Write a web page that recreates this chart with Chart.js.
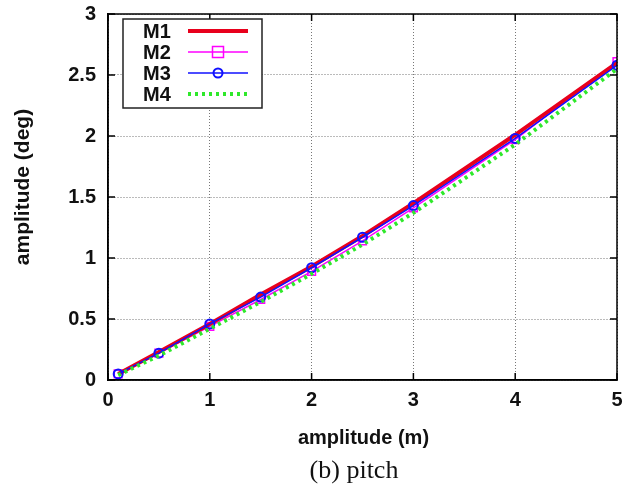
<!DOCTYPE html>
<html>
<head>
<meta charset="utf-8">
<script src="https://cdn.jsdelivr.net/npm/chart.js@4/dist/chart.umd.min.js"></script>
<style>
  html, body { margin: 0; padding: 0; background: #fff; }
  #wrap { width: 628px; height: 492px; position: relative; }
</style>
</head>
<body>
<div id="wrap"><canvas id="pitch-chart" width="628" height="492"></canvas></div>
<script>
const xValues = [0.1, 0.5, 1, 1.5, 2, 2.5, 3, 4, 5];
const m1 = [0.05, 0.23, 0.46, 0.70, 0.93, 1.18, 1.45, 2.01, 2.60];
const m2 = [0.05, 0.22, 0.44, 0.66, 0.89, 1.14, 1.41, 1.97, 2.61];
const m3 = [0.05, 0.22, 0.46, 0.68, 0.92, 1.17, 1.43, 1.98, 2.58];
const m4 = [0.04, 0.20, 0.42, 0.64, 0.87, 1.11, 1.37, 1.93, 2.55];
const seriesNames = ['M1', 'M2', 'M3', 'M4'];

const sans = "'Liberation Sans', Arial, sans-serif";

function toPoints(ys) {
    return xValues.map((x, i) => ({ x: x, y: ys[i] }));
}

// frame, inner ticks, legend box and texts (gnuplot look)
const framePlugin = {
    id: 'frame',
    afterDraw(chart) {
        const ctx = chart.ctx;
        const a = chart.chartArea;
        const xs = chart.scales.x;
        const ys = chart.scales.y;
        ctx.save();

        // inward ticks on all sides
        ctx.strokeStyle = '#000';
        ctx.lineWidth = 1.5;
        ctx.beginPath();
        xs.ticks.forEach(t => {
            const px = xs.getPixelForValue(t.value);
            ctx.moveTo(px, a.bottom); ctx.lineTo(px, a.bottom - 7);
            ctx.moveTo(px, a.top); ctx.lineTo(px, a.top + 7);
        });
        ys.ticks.forEach(t => {
            const py = ys.getPixelForValue(t.value);
            ctx.moveTo(a.left, py); ctx.lineTo(a.left + 7, py);
            ctx.moveTo(a.right, py); ctx.lineTo(a.right - 7, py);
        });
        ctx.stroke();
        ctx.strokeRect(a.left, a.top, a.right - a.left, a.bottom - a.top);

        // legend
        const lx = 123, ly = 19, lw = 139, lh = 89;
        ctx.fillStyle = '#fff';
        ctx.fillRect(lx, ly, lw, lh);
        ctx.strokeStyle = '#222';
        ctx.lineWidth = 1.5;
        ctx.strokeRect(lx, ly, lw, lh);
        const rows = [31, 52, 73, 94];
        ctx.font = 'bold 20px ' + sans;
        ctx.textBaseline = 'middle';
        ctx.textAlign = 'left';
        chart.data.datasets.forEach((ds, i) => {
            const y = rows[i];
            ctx.fillStyle = '#111';
            ctx.fillText(seriesNames[i], 143, y + 1);
            ctx.beginPath();
            ctx.strokeStyle = ds.borderColor;
            ctx.lineWidth = ds.borderWidth;
            ctx.setLineDash(ds.borderDash || []);
            ctx.moveTo(188, y); ctx.lineTo(248, y);
            ctx.stroke();
            ctx.setLineDash([]);
            if (ds.pointRadius > 0) {
                ctx.lineWidth = ds.pointBorderWidth;
                ctx.strokeStyle = ds.pointBorderColor;
                ctx.beginPath();
                if (ds.pointStyle === 'rect') {
                    const r = ds.pointRadius;
                    ctx.rect(218 - r, y - r, 2 * r, 2 * r);
                } else {
                    ctx.arc(218, y, ds.pointRadius, 0, Math.PI * 2);
                }
                ctx.stroke();
            }
        });

        // axis titles and caption
        ctx.fillStyle = '#111';
        ctx.textAlign = 'center';
        ctx.font = 'bold 20px ' + sans;
        ctx.fillText('amplitude (m)', (a.left + a.right) / 2 + 1, 438);
        ctx.save();
        ctx.translate(23, 187);
        ctx.rotate(-Math.PI / 2);
        ctx.font = 'bold 21px ' + sans;
        ctx.fillText('amplitude (deg)', 0, 0);
        ctx.restore();
        ctx.font = "26px 'Liberation Serif', 'Times New Roman', serif";
        ctx.fillText('(b) pitch', 354, 471);
        ctx.restore();
    }
};

const ctx = document.getElementById('pitch-chart').getContext('2d');
const chart = new Chart(ctx, {
    type: 'line',
    data: {
        datasets: [{
            label: 'M1',
            data: toPoints(m1),
            borderColor: '#e8001c',
            borderWidth: 4,
            pointRadius: 0,
            order: 3
        }, {
            label: 'M2',
            data: toPoints(m2),
            borderColor: '#ff00ff',
            borderWidth: 1.5,
            pointStyle: 'rect',
            pointRadius: 5.5,
            pointBorderWidth: 1.5,
            pointBorderColor: '#ff00ff',
            pointBackgroundColor: 'rgba(0,0,0,0)',
            order: 4
        }, {
            label: 'M3',
            data: toPoints(m3),
            borderColor: '#1010ff',
            borderWidth: 1.5,
            pointStyle: 'circle',
            pointRadius: 4.5,
            pointBorderWidth: 2,
            pointBorderColor: '#1010ff',
            pointBackgroundColor: 'rgba(0,0,0,0)',
            order: 2
        }, {
            label: 'M4',
            data: toPoints(m4),
            borderColor: '#2ee82a',
            borderWidth: 4,
            borderDash: [3, 4],
            pointRadius: 0,
            order: 1
        }]
    },
    options: {
        responsive: false,
        animation: false,
        layout: { padding: { left: 0, right: 11, top: 14, bottom: 0 } },
        plugins: {
            legend: { display: false },
            tooltip: { enabled: false }
        },
        scales: {
            x: {
                type: 'linear',
                min: 0,
                max: 5,
                afterFit(scale) {
                    scale.height = 112;
                    scale.paddingLeft = 0;
                    scale.paddingRight = 0;
                },
                ticks: {
                    stepSize: 1, color: '#111', padding: 8,
                    font: { family: sans, size: 20, weight: 'bold' },
                    callback: v => String(v)
                },
                grid: { color: '#777', lineWidth: 1, drawTicks: false },
                border: { display: true, color: '#000', width: 1.5, dash: [1, 2] }
            },
            y: {
                min: 0,
                max: 3,
                afterFit(scale) {
                    scale.width = 108;
                    scale.paddingTop = 0;
                    scale.paddingBottom = 0;
                },
                ticks: {
                    stepSize: 0.5, color: '#111', padding: 12,
                    font: { family: sans, size: 20, weight: 'bold' },
                    callback: v => String(v)
                },
                grid: { color: '#777', lineWidth: 1, drawTicks: false },
                border: { display: true, color: '#000', width: 1.5, dash: [1, 2] }
            }
        }
    },
    plugins: [framePlugin]
});
</script>
</body>
</html>
